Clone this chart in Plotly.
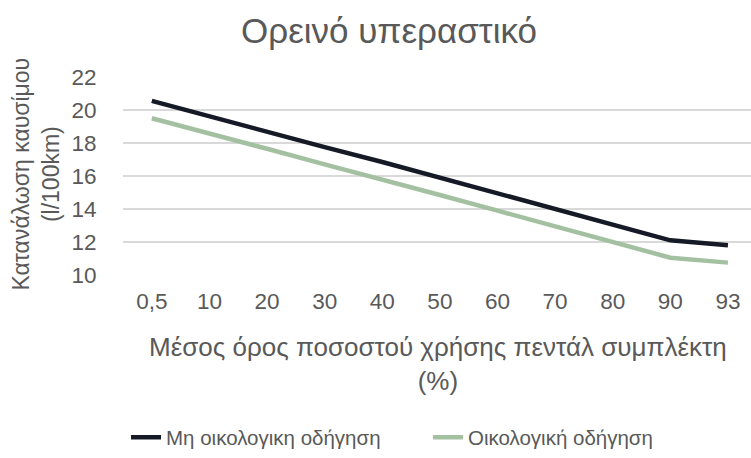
import plotly.graph_objects as go

# Clutch-pedal usage categories (%) and fuel consumption (l/100km)
categories = ["0,5", "10", "20", "30", "40", "50", "60", "70", "80", "90", "93"]
non_eco = [20.55, 19.6, 18.7, 17.75, 16.85, 15.9, 14.95, 14.0, 13.05, 12.1, 11.8]
eco = [19.5, 18.6, 17.65, 16.7, 15.8, 14.85, 13.9, 12.95, 12.0, 11.05, 10.75]
series_names = ["Μη οικολογικη οδήγηση", "Οικολογική οδήγηση"]
y_ticks = [10, 12, 14, 16, 18, 20, 22]

text_color = "#595959"
font_family = "Liberation Sans, Arial, sans-serif"

W, H = 751, 458
M_L, M_R, M_T, M_B = 123, 0, 77, 180
plot_h = H - M_T - M_B


def paper_y(px):
    """Convert a pixel row (from the top) to paper y coordinates."""
    return (H - M_B - px) / plot_h


def paper_x(px):
    return (px - M_L) / (W - M_L - M_R)


fig = go.Figure()
fig.add_trace(go.Scatter(
    x=categories, y=non_eco, name=series_names[0], mode="lines",
    line=dict(color="#151a26", width=4.5),
))
fig.add_trace(go.Scatter(
    x=categories, y=eco, name=series_names[1], mode="lines",
    line=dict(color="#a3c1a0", width=4.5),
))

fig.update_layout(
    width=W, height=H,
    paper_bgcolor="white", plot_bgcolor="white",
    margin=dict(l=M_L, r=M_R, t=M_T, b=M_B),
    font=dict(family=font_family, color=text_color, size=22),
    title=dict(
        text="Ορεινό υπεραστικό", x=389 / W, xanchor="center", xref="container",
        y=1 - 31 / H, yanchor="middle", yref="container",
        font=dict(size=35, color=text_color),
    ),
    showlegend=True,
    legend=dict(
        orientation="h", x=paper_x(428), xanchor="center",
        y=paper_y(443), yanchor="middle",
        font=dict(size=20.5, color=text_color),
        entrywidth=257, traceorder="normal",
    ),
    xaxis=dict(
        type="category", range=[-0.5, 10.4],
        showgrid=False, showline=False, zeroline=False,
        ticks="outside", ticklen=6, tickcolor="rgba(0,0,0,0)",
        tickfont=dict(size=22.5, color=text_color),
    ),
    yaxis=dict(
        range=[10, 22], tickvals=y_ticks,
        showgrid=True, gridcolor="#d9d9d9", gridwidth=1.5,
        zeroline=False, showline=False,
        ticks="outside", ticklen=21, tickcolor="rgba(0,0,0,0)",
        tickfont=dict(size=22.5, color=text_color),
    ),
    annotations=[
        dict(
            text="Μέσος όρος ποσοστού χρήσης πεντάλ συμπλέκτη<br>(%)",
            xref="paper", yref="paper", x=paper_x(438), y=paper_y(368),
            xanchor="center", yanchor="middle", showarrow=False,
            font=dict(size=26, color=text_color),
        ),
        dict(
            text="Κατανάλωση καυσίμου<br>(l/100km)",
            xref="paper", yref="paper", x=paper_x(36), y=paper_y(176),
            xanchor="center", yanchor="middle", showarrow=False,
            textangle=-90, font=dict(size=23, color=text_color),
        ),
    ],
)

fig.write_html("out.html")
